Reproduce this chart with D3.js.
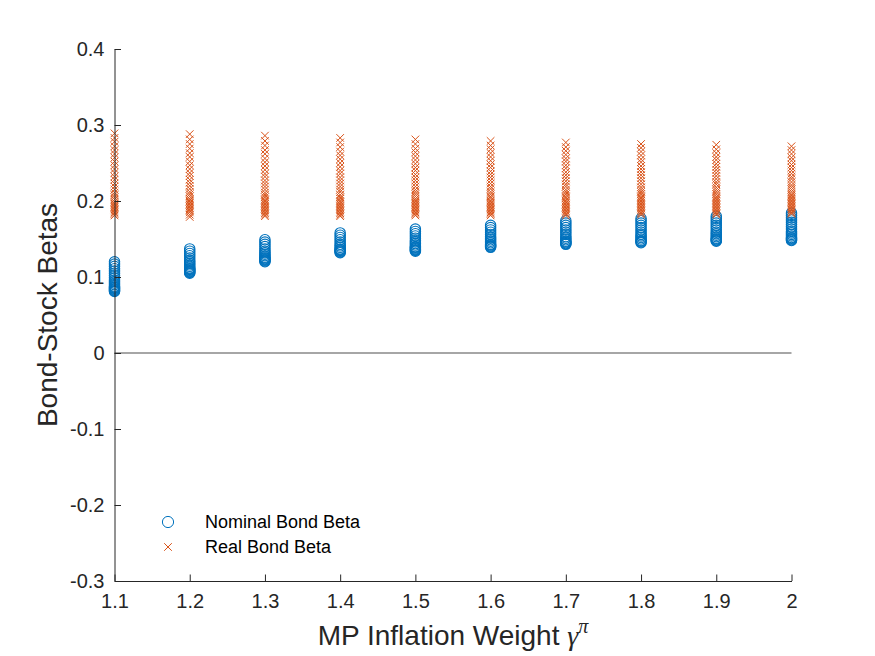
<!DOCTYPE html>
<html>
<head>
<meta charset="utf-8">
<script src="https://cdn.jsdelivr.net/npm/d3@7"></script>
<style>
  body { margin: 0; background: #fff; }
  svg { display: block; font-family: "Liberation Sans", Arial, sans-serif; }
</style>
</head>
<body>
<svg width="875" height="656"></svg>
<script>
// MP inflation weight values (x)
const gammas = [1.1, 1.2, 1.3, 1.4, 1.5, 1.6, 1.7, 1.8, 1.9, 2.0];

// nominal bond-stock betas, one list per gamma
const nominalBeta = [
  [0.120, 0.117, 0.114, 0.111, 0.108, 0.105, 0.102, 0.099, 0.096, 0.094, 0.092, 0.090, 0.088, 0.087, 0.086, 0.085, 0.084, 0.083, 0.082, 0.081],
  [0.137, 0.134, 0.131, 0.128, 0.125, 0.122, 0.120, 0.118, 0.116, 0.114, 0.112, 0.111, 0.110, 0.109, 0.108, 0.107, 0.106, 0.105],
  [0.149, 0.146, 0.143, 0.140, 0.137, 0.134, 0.132, 0.130, 0.128, 0.126, 0.125, 0.124, 0.123, 0.122, 0.121, 0.120],
  [0.158, 0.155, 0.152, 0.149, 0.146, 0.143, 0.141, 0.139, 0.137, 0.136, 0.135, 0.134, 0.133, 0.132],
  [0.163, 0.160, 0.157, 0.154, 0.151, 0.148, 0.146, 0.144, 0.142, 0.140, 0.139, 0.138, 0.137, 0.136, 0.135, 0.134],
  [0.168, 0.165, 0.162, 0.159, 0.156, 0.153, 0.151, 0.149, 0.147, 0.145, 0.143, 0.142, 0.141, 0.140, 0.139],
  [0.174, 0.171, 0.168, 0.165, 0.162, 0.159, 0.156, 0.153, 0.151, 0.149, 0.147, 0.146, 0.145, 0.144, 0.143],
  [0.177, 0.174, 0.171, 0.168, 0.165, 0.162, 0.159, 0.156, 0.154, 0.152, 0.150, 0.148, 0.147, 0.146, 0.145],
  [0.180, 0.177, 0.174, 0.171, 0.168, 0.165, 0.162, 0.159, 0.157, 0.155, 0.153, 0.151, 0.150, 0.149, 0.148, 0.147],
  [0.184, 0.181, 0.178, 0.175, 0.172, 0.169, 0.166, 0.163, 0.160, 0.158, 0.156, 0.154, 0.152, 0.151, 0.150, 0.149, 0.148]
];

// real bond-stock betas, one list per gamma
const realBeta = [
  [0.289, 0.283, 0.278, 0.272, 0.267, 0.262, 0.257, 0.252, 0.247, 0.242, 0.237, 0.232, 0.228, 0.223, 0.219, 0.215, 0.211, 0.208, 0.205, 0.202, 0.199, 0.197, 0.195, 0.193, 0.191, 0.189, 0.187, 0.185, 0.183, 0.181],
  [0.288, 0.281, 0.275, 0.269, 0.263, 0.258, 0.252, 0.247, 0.242, 0.237, 0.233, 0.228, 0.224, 0.220, 0.216, 0.212, 0.209, 0.206, 0.203, 0.201, 0.199, 0.197, 0.195, 0.193, 0.191, 0.189, 0.187, 0.185, 0.182, 0.179],
  [0.286, 0.279, 0.273, 0.267, 0.262, 0.256, 0.251, 0.246, 0.241, 0.236, 0.232, 0.227, 0.223, 0.219, 0.215, 0.211, 0.208, 0.205, 0.202, 0.200, 0.198, 0.196, 0.194, 0.192, 0.190, 0.188, 0.186, 0.184, 0.182, 0.180],
  [0.283, 0.277, 0.271, 0.265, 0.260, 0.255, 0.250, 0.245, 0.240, 0.236, 0.231, 0.227, 0.223, 0.219, 0.215, 0.212, 0.208, 0.205, 0.203, 0.200, 0.198, 0.196, 0.194, 0.192, 0.190, 0.188, 0.186, 0.184, 0.182, 0.180],
  [0.281, 0.275, 0.269, 0.264, 0.259, 0.254, 0.249, 0.244, 0.240, 0.235, 0.231, 0.227, 0.223, 0.219, 0.215, 0.212, 0.209, 0.206, 0.203, 0.201, 0.199, 0.197, 0.195, 0.193, 0.191, 0.189, 0.187, 0.185, 0.183, 0.181],
  [0.279, 0.273, 0.268, 0.263, 0.258, 0.253, 0.248, 0.244, 0.239, 0.235, 0.231, 0.227, 0.223, 0.219, 0.216, 0.212, 0.209, 0.206, 0.204, 0.201, 0.199, 0.197, 0.195, 0.193, 0.191, 0.189, 0.187, 0.185, 0.183, 0.181],
  [0.277, 0.271, 0.266, 0.261, 0.256, 0.252, 0.247, 0.243, 0.238, 0.234, 0.230, 0.226, 0.222, 0.219, 0.215, 0.212, 0.209, 0.206, 0.204, 0.201, 0.199, 0.197, 0.195, 0.193, 0.191, 0.189, 0.187, 0.185, 0.183, 0.181],
  [0.275, 0.270, 0.265, 0.260, 0.255, 0.251, 0.246, 0.242, 0.238, 0.234, 0.230, 0.226, 0.222, 0.218, 0.215, 0.212, 0.209, 0.206, 0.204, 0.202, 0.200, 0.198, 0.196, 0.194, 0.192, 0.190, 0.188, 0.186, 0.184, 0.182],
  [0.274, 0.268, 0.263, 0.258, 0.254, 0.249, 0.245, 0.241, 0.237, 0.233, 0.229, 0.225, 0.222, 0.218, 0.215, 0.212, 0.209, 0.206, 0.204, 0.202, 0.200, 0.198, 0.196, 0.194, 0.192, 0.190, 0.188, 0.186, 0.184, 0.182],
  [0.272, 0.267, 0.262, 0.257, 0.253, 0.248, 0.244, 0.240, 0.236, 0.232, 0.229, 0.225, 0.221, 0.218, 0.215, 0.212, 0.209, 0.207, 0.205, 0.203, 0.201, 0.199, 0.197, 0.195, 0.193, 0.191, 0.189, 0.187, 0.185, 0.183]
];

const xTicks = [1.1, 1.2, 1.3, 1.4, 1.5, 1.6, 1.7, 1.8, 1.9, 2];
const yTicks = [-0.3, -0.2, -0.1, 0, 0.1, 0.2, 0.3, 0.4];
const seriesNames = ["Nominal Bond Beta", "Real Bond Beta"];

const blue = "#0072BD", orange = "#D95319", axisCol = "#262626";
const svg = d3.select("svg");

const x = d3.scaleLinear().domain([1.1, 2]).range([114.5, 791.5]);
const y = d3.scaleLinear().domain([-0.3, 0.4]).range([581, 49]);

const pts = (lists) => lists.flatMap((vals, i) => vals.map(v => ({ g: gammas[i], v })));
const fmt = d => String(+d.toFixed(2)); // plain hyphen minus, like MATLAB

// zero line
svg.append("line")
  .attr("x1", x(1.1)).attr("x2", x(2))
  .attr("y1", y(0)).attr("y2", y(0))
  .attr("stroke", "#000").attr("stroke-width", 0.7);

// nominal: circles
svg.append("g").selectAll("circle")
  .data(pts(nominalBeta))
  .join("circle")
  .attr("cx", d => x(d.g)).attr("cy", d => y(d.v))
  .attr("r", 5.2)
  .attr("fill", "none").attr("stroke", blue).attr("stroke-width", 1.1);

// real: crosses
const cross = "M-3.8,-3.8L3.8,3.8M-3.8,3.8L3.8,-3.8";
svg.append("g").selectAll("path")
  .data(pts(realBeta))
  .join("path")
  .attr("transform", d => `translate(${x(d.g)},${y(d.v)})`)
  .attr("d", cross)
  .attr("fill", "none").attr("stroke", orange).attr("stroke-width", 1);

// axes (ticks pointing inward)
const xAxis = svg.append("g")
  .attr("transform", `translate(0,${y(-0.3)})`)
  .call(d3.axisBottom(x).tickValues(xTicks).tickSizeInner(-6.5).tickSizeOuter(0).tickPadding(13).tickFormat(fmt));
const yAxis = svg.append("g")
  .attr("transform", `translate(${x(1.1)},0)`)
  .call(d3.axisLeft(y).tickValues(yTicks).tickSizeInner(-6.5).tickSizeOuter(0).tickPadding(10).tickFormat(fmt));

[xAxis, yAxis].forEach(a => {
  a.select(".domain").attr("stroke", axisCol).attr("stroke-width", 1);
  a.selectAll(".tick line").attr("stroke", axisCol).attr("stroke-width", 1);
  a.selectAll(".tick text").attr("fill", axisCol)
    .style("font-family", "'Liberation Sans', Arial, sans-serif").style("font-size", "20px");
});

// axis labels
svg.append("text")
  .attr("transform", `translate(57,${(y(-0.3) + y(0.4)) / 2}) rotate(-90)`)
  .attr("text-anchor", "middle")
  .attr("fill", axisCol).style("font-size", "28px")
  .text("Bond-Stock Betas");

const xl = svg.append("text")
  .attr("x", (x(1.1) + x(2)) / 2).attr("y", 645)
  .attr("text-anchor", "middle")
  .attr("fill", axisCol).style("font-size", "28px");
xl.append("tspan").text("MP Inflation Weight ");
xl.append("tspan").attr("font-family", "'Liberation Serif', 'Times New Roman', serif").attr("font-style", "italic").text("γ");
xl.append("tspan").attr("font-family", "'Liberation Serif', 'Times New Roman', serif").attr("font-style", "italic")
  .attr("font-size", "20px").attr("dy", -12).text("π");

// legend
const legend = svg.append("g");
legend.append("circle").attr("cx", 168).attr("cy", 522).attr("r", 5.6)
  .attr("fill", "none").attr("stroke", blue).attr("stroke-width", 1);
legend.append("path").attr("transform", "translate(168,547)").attr("d", cross)
  .attr("fill", "none").attr("stroke", orange).attr("stroke-width", 1);
legend.selectAll("text.lab")
  .data(seriesNames)
  .join("text")
  .attr("class", "lab")
  .attr("x", 205).attr("y", (d, i) => 528 + i * 25)
  .attr("fill", "#000").style("font-size", "18px")
  .text(d => d);
</script>
</body>
</html>
